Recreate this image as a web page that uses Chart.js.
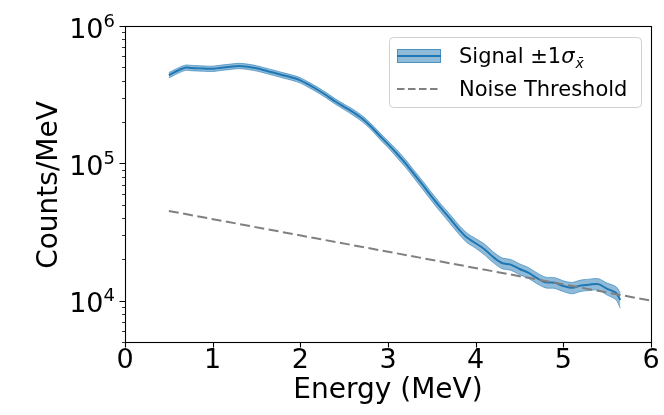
<!DOCTYPE html>
<html><head><meta charset="utf-8">
<script src="https://cdn.jsdelivr.net/npm/chart.js@4"></script>
<style>html,body{margin:0;padding:0;background:#fff}</style>
</head><body>
<canvas id="c" width="664" height="415"></canvas>
<script>
// ---- data ----
const energy = [0.50,0.55,0.60,0.65,0.70,0.75,0.80,0.90,1.00,1.10,1.20,1.30,1.40,1.50,1.60,1.70,1.80,1.90,2.00,
  2.10,2.20,2.30,2.40,2.50,2.60,2.70,2.80,2.90,3.00,3.10,3.20,3.30,3.40,3.50,3.60,3.70,3.80,3.90,4.00,
  4.10,4.20,4.30,4.40,4.50,4.60,4.70,4.80,4.90,5.00,5.10,5.20,5.30,5.40,5.50,5.60,5.65];
const signal = [4.38e5,4.55e5,4.72e5,4.88e5,4.98e5,4.95e5,4.93e5,4.90e5,4.88e5,4.97e5,5.05e5,5.12e5,5.05e5,4.92e5,4.74e5,4.56e5,4.38e5,4.22e5,4.02e5,
  3.72e5,3.42e5,3.12e5,2.82e5,2.58e5,2.36e5,2.13e5,1.87e5,1.60e5,1.38e5,1.18e5,1.00e5,8.30e4,6.90e4,5.70e4,4.75e4,4.00e4,3.35e4,2.88e4,2.62e4,
  2.37e4,2.08e4,1.88e4,1.83e4,1.70e4,1.60e4,1.46e4,1.36e4,1.35e4,1.28e4,1.24e4,1.29e4,1.31e4,1.32e4,1.22e4,1.14e4,1.01e4];
const relErr = [0.045,0.045,0.045,0.045,0.045,0.045,0.045,0.045,0.045,0.045,0.045,0.045,0.045,0.045,0.045,0.045,0.045,0.045,0.045,
  0.045,0.045,0.045,0.045,0.045,0.05,0.05,0.05,0.055,0.055,0.065,0.065,0.065,0.07,0.07,0.07,0.075,0.075,0.08,0.08,
  0.09,0.09,0.09,0.09,0.09,0.09,0.09,0.09,0.09,0.09,0.095,0.095,0.095,0.095,0.10,0.11,0.13];
const noiseEnergy = [0.5, 6.0];
const noiseLevel = [45000, 10000];
const xTicks = [0,1,2,3,4,5,6];
const yMajor = [1e4,1e5,1e6];
const yMinor = [5000,6000,7000,8000,9000,20000,30000,40000,50000,60000,70000,80000,90000,
  200000,300000,400000,500000,600000,700000,800000,900000];

const centerPts = energy.map((e,i)=>({x:e,y:signal[i]}));
const upperPts = energy.map((e,i)=>({x:e,y:signal[i]*(1+relErr[i])}));
const lowerPts = energy.map((e,i)=>({x:e,y:signal[i]*(1-relErr[i])}));
const noisePts = noiseEnergy.map((e,i)=>({x:e,y:noiseLevel[i]}));

const FONT = '"DejaVu Sans", sans-serif';
const BLUE = '#1f77b4';
const BAND = 'rgba(31,119,180,0.5)';

const deco = {
  id: 'deco',
  afterDraw(chart) {
    const {ctx, chartArea: a, scales: {x, y}} = chart;
    ctx.save();
    ctx.strokeStyle = '#000'; ctx.lineWidth = 1.1;
    ctx.strokeRect(Math.round(a.left)+0.5, Math.round(a.top)+0.5, Math.round(a.right-a.left), Math.round(a.bottom-a.top));
    ctx.beginPath();
    xTicks.forEach(v => { const p = Math.round(x.getPixelForValue(v))+0.5; ctx.moveTo(p, a.bottom); ctx.lineTo(p, a.bottom+5.5); });
    yMajor.forEach(v => { const p = Math.round(y.getPixelForValue(v))+0.5; ctx.moveTo(a.left-5.5, p); ctx.lineTo(a.left, p); });
    ctx.stroke();
    ctx.beginPath(); ctx.lineWidth = 0.8;
    yMinor.forEach(v => { const p = Math.round(y.getPixelForValue(v))+0.5; ctx.moveTo(a.left-3, p); ctx.lineTo(a.left, p); });
    ctx.stroke();
    ctx.fillStyle = '#000';
    ctx.font = '27px ' + FONT; ctx.textAlign = 'center'; ctx.textBaseline = 'alphabetic';
    xTicks.forEach(v => ctx.fillText(String(v), x.getPixelForValue(v), a.bottom + 26));
    const right = a.left - 10;
    yMajor.forEach(v => {
      const p = y.getPixelForValue(v);
      const ex = String(Math.round(Math.log10(v)));
      ctx.font = '18px ' + FONT;
      const w = ctx.measureText(ex).width;
      ctx.textAlign = 'left';
      ctx.fillText(ex, right - w, p + 0.5);
      ctx.font = '27px ' + FONT; ctx.textAlign = 'right';
      ctx.fillText('10', right - w, p + 11.5);
    });
    ctx.font = '28px ' + FONT; ctx.textAlign = 'center';
    ctx.fillText('Energy (MeV)', (a.left + a.right)/2, a.bottom + 56);
    ctx.save();
    ctx.translate(57, (a.top + a.bottom)/2 + 1);
    ctx.rotate(-Math.PI/2);
    ctx.fillText('Counts/MeV', 0, 0);
    ctx.restore();
    // legend
    const lx = 389.5, ly = 37.5, lw = 252, lh = 70, r = 4;
    ctx.beginPath();
    ctx.moveTo(lx+r, ly); ctx.lineTo(lx+lw-r, ly); ctx.arcTo(lx+lw, ly, lx+lw, ly+r, r);
    ctx.lineTo(lx+lw, ly+lh-r); ctx.arcTo(lx+lw, ly+lh, lx+lw-r, ly+lh, r);
    ctx.lineTo(lx+r, ly+lh); ctx.arcTo(lx, ly+lh, lx, ly+lh-r, r);
    ctx.lineTo(lx, ly+r); ctx.arcTo(lx, ly, lx+r, ly, r); ctx.closePath();
    ctx.fillStyle = 'rgba(255,255,255,0.8)'; ctx.fill();
    ctx.strokeStyle = '#d0d0d0'; ctx.lineWidth = 1; ctx.stroke();
    ctx.fillStyle = BAND; ctx.fillRect(397, 49, 44, 14);
    ctx.strokeStyle = 'rgba(31,119,180,0.6)'; ctx.lineWidth = 1; ctx.strokeRect(397.5, 49.5, 43, 13);
    ctx.beginPath(); ctx.strokeStyle = BLUE; ctx.lineWidth = 2; ctx.moveTo(397, 56); ctx.lineTo(441, 56); ctx.stroke();
    ctx.beginPath(); ctx.strokeStyle = '#808080'; ctx.lineWidth = 2; ctx.setLineDash([7.5, 3.5]);
    ctx.moveTo(397, 89); ctx.lineTo(441, 89); ctx.stroke(); ctx.setLineDash([]);
    ctx.fillStyle = '#000'; ctx.textAlign = 'left';
    ctx.font = '21px ' + FONT;
    let tx = 459;
    const t1 = 'Signal \u00b11';
    ctx.fillText(t1, tx, 63); tx += ctx.measureText(t1).width;
    ctx.font = 'italic 21px ' + FONT;
    ctx.fillText('\u03c3', tx, 63); tx += ctx.measureText('\u03c3').width + 1;
    ctx.font = 'italic 14px ' + FONT;
    ctx.fillText('x\u0304', tx, 68);
    ctx.font = '21px ' + FONT;
    ctx.fillText('Noise Threshold', 459, 96);
    ctx.restore();
  }
};

new Chart(document.getElementById('c'), {
  type: 'line',
  data: { datasets: [
    { data: upperPts, borderColor: 'rgba(31,119,180,0.55)', borderWidth: 1, backgroundColor: BAND, fill: '+1', pointRadius: 0, tension: 0.3, order: 3 },
    { data: lowerPts, borderColor: 'rgba(31,119,180,0.55)', borderWidth: 1, fill: false, pointRadius: 0, tension: 0.3, order: 3 },
    { data: centerPts, borderColor: BLUE, borderWidth: 2, fill: false, pointRadius: 0, tension: 0.3, order: 2 },
    { data: noisePts, borderColor: '#808080', borderWidth: 2, borderDash: [10, 4.5], fill: false, pointRadius: 0, tension: 0, order: 1 }
  ]},
  options: {
    responsive: false, animation: false, devicePixelRatio: 1,
    layout: { padding: { left: 125, right: 13, top: 26, bottom: 73 } },
    plugins: { legend: { display: false }, tooltip: { enabled: false } },
    scales: {
      x: { type: 'linear', min: 0, max: 6, display: false },
      y: { type: 'logarithmic', min: 5000, max: 1e6, display: false }
    }
  },
  plugins: [deco]
});
</script>
</body></html>
